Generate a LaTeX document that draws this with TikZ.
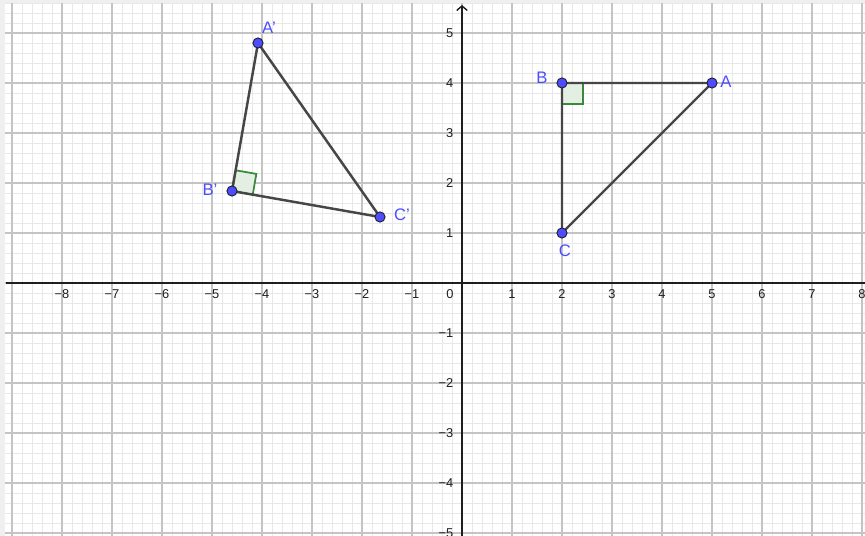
\documentclass[tikz,border=0pt]{standalone}
\usepackage{fontspec}
\setmainfont{Liberation Sans}
\usetikzlibrary{arrows.meta,calc}
\definecolor{ggbminor}{HTML}{E8E8E8}
\definecolor{ggbmajor}{HTML}{C4C4C4}
\definecolor{ggbink}{HTML}{1E1E1E}
\definecolor{ggbside}{HTML}{464646}
\definecolor{ggbpoint}{HTML}{4D4DFF}
\definecolor{ggbangle}{HTML}{3A8A3A}
\definecolor{ggbframe}{HTML}{EFEFEF}
\tikzset{
  minor grid/.style={draw=ggbminor, line width=0.5pt},
  major grid/.style={draw=ggbmajor, line width=0.6pt},
  axis line/.style={draw=ggbink, line width=0.8pt},
  tri side/.style={draw=ggbside, line width=1.4pt},
  pt/.style={circle, fill=ggbpoint, draw=ggbink, line width=0.5pt,
    inner sep=0pt, minimum size=5.8pt},
  pt label/.style={font=\fontsize{9.5}{11}\selectfont, text=ggbpoint},
  tick label/.style={font=\fontsize{7.3}{8}\selectfont, text=ggbink, inner sep=0pt},
  right mark/.style={draw=ggbangle, fill=ggbangle!14, line width=1pt},
}
\begin{document}
\begin{tikzpicture}[x=1cm, y=1cm]
  \useasboundingbox (-9.24,-5.06) rectangle (8.06,5.66);
  \fill[ggbframe] (-9.24,-5.06) rectangle (-9.14,5.66);
  \fill[ggbframe] (-9.24,5.6) rectangle (8.06,5.66);

  \draw[minor grid] (-9.14,-5.06) grid[step=0.2] (8.06,5.6);
  \draw[major grid] (-9.14,-5.06) grid[step=1] (8.06,5.6);

  \draw[axis line] (-9.12,0) -- (8.06,0);
  \draw[axis line, -{Straight Barb[length=2.6pt, width=6pt]}] (0,-5.06) -- (0,5.56);

  \node[tick label] at (-8,-0.22) {−8};
  \node[tick label] at (-7,-0.22) {−7};
  \node[tick label] at (-6,-0.22) {−6};
  \node[tick label] at (-5,-0.22) {−5};
  \node[tick label] at (-4,-0.22) {−4};
  \node[tick label] at (-3,-0.22) {−3};
  \node[tick label] at (-2,-0.22) {−2};
  \node[tick label] at (-1,-0.22) {−1};
  \node[tick label] at (-0.24,-0.22) {0};
  \node[tick label] at (1,-0.22) {1};
  \node[tick label] at (2,-0.22) {2};
  \node[tick label] at (3,-0.22) {3};
  \node[tick label] at (4,-0.22) {4};
  \node[tick label] at (5,-0.22) {5};
  \node[tick label] at (6,-0.22) {6};
  \node[tick label] at (7,-0.22) {7};
  \node[tick label] at (8,-0.22) {8};

  \node[tick label, anchor=east] at (-0.17,5) {5};
  \node[tick label, anchor=east] at (-0.17,4) {4};
  \node[tick label, anchor=east] at (-0.17,3) {3};
  \node[tick label, anchor=east] at (-0.17,2) {2};
  \node[tick label, anchor=east] at (-0.17,1) {1};
  \node[tick label, anchor=east] at (-0.17,-1) {−1};
  \node[tick label, anchor=east] at (-0.17,-2) {−2};
  \node[tick label, anchor=east] at (-0.17,-3) {−3};
  \node[tick label, anchor=east] at (-0.17,-4) {−4};
  \node[tick label, anchor=east] at (-0.17,-5) {−5};

  \coordinate (A) at (5,4);
  \coordinate (B) at (2,4);
  \coordinate (C) at (2,1);
  \coordinate (Ap) at (-4.08,4.80);
  \coordinate (Bp) at (-4.60,1.84);
  \coordinate (Cp) at (-1.64,1.32);

  \coordinate (Ba) at ($(B)!0.14!(A)$);
  \coordinate (Bc) at ($(B)!0.14!(C)$);
  \draw[right mark] (B) -- (Ba) -- ($(Ba)+(Bc)-(B)$) -- (Bc) -- cycle;
  \coordinate (Bpa) at ($(Bp)!0.14!(Ap)$);
  \coordinate (Bpc) at ($(Bp)!0.14!(Cp)$);
  \draw[right mark] (Bp) -- (Bpa) -- ($(Bpa)+(Bpc)-(Bp)$) -- (Bpc) -- cycle;

  \draw[tri side] (A) -- (B) -- (C) -- cycle;
  \draw[tri side] (Ap) -- (Bp) -- (Cp) -- cycle;

  \node[pt] (nA) at (A) {};
  \node[pt] (nB) at (B) {};
  \node[pt] (nC) at (C) {};
  \node[pt] (nAp) at (Ap) {};
  \node[pt] (nBp) at (Bp) {};
  \node[pt] (nCp) at (Cp) {};

  \node[pt label] at (5.28,4.02) {A};
  \node[pt label] at (1.6,4.1) {B};
  \node[pt label] at (2.06,0.64) {C};
  \node[pt label] at (-3.86,5.1) {A'};
  \node[pt label] at (-5.04,1.86) {B'};
  \node[pt label] at (-1.2,1.36) {C'};
\end{tikzpicture}
\end{document}
